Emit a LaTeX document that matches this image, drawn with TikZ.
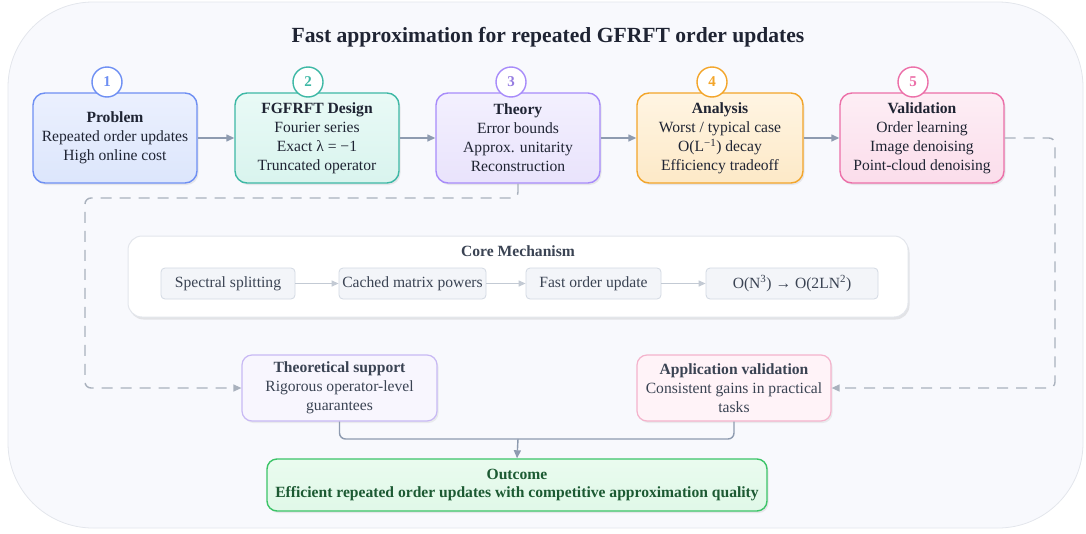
\documentclass[tikz,border=0pt]{standalone}
\usepackage{fontspec}
\setmainfont{Liberation Serif}
\usetikzlibrary{arrows.meta,shadows,calc}
\definecolor{bgfill}{HTML}{F8F9FD}
\definecolor{bgline}{HTML}{E3E6EC}
\definecolor{txt}{HTML}{1F2433}
\definecolor{txtb}{HTML}{3A4353}
\definecolor{conn}{HTML}{8E9BB0}
\definecolor{dashc}{HTML}{A9B1BD}
\definecolor{lconn}{HTML}{C3CAD4}
\definecolor{blueL}{HTML}{6E8FF3}\definecolor{blueT}{HTML}{EBF0FE}\definecolor{blueB}{HTML}{DCE6FC}
\definecolor{tealL}{HTML}{3DB8A5}\definecolor{tealT}{HTML}{E9FAF6}\definecolor{tealB}{HTML}{D9F4EE}
\definecolor{purpL}{HTML}{A78BFA}\definecolor{purpT}{HTML}{F3F0FE}\definecolor{purpB}{HTML}{E9E3FC}
\definecolor{oranL}{HTML}{F3A52A}\definecolor{oranT}{HTML}{FFF5E3}\definecolor{oranB}{HTML}{FDE9C7}
\definecolor{pinkL}{HTML}{EC6FA8}\definecolor{pinkT}{HTML}{FDEEF5}\definecolor{pinkB}{HTML}{FBDDEB}
\definecolor{innerF}{HTML}{F3F5F9}\definecolor{innerL}{HTML}{D3D9E3}
\definecolor{theoL}{HTML}{C8B9F4}\definecolor{theoF}{HTML}{F8F6FE}
\definecolor{appL}{HTML}{F4B3CC}\definecolor{appF}{HTML}{FFF3F8}
\definecolor{outL}{HTML}{3CC468}\definecolor{outT}{HTML}{EAFBEF}\definecolor{outB}{HTML}{E0F8E8}
\definecolor{outTx}{HTML}{1C5A33}
\tikzset{
  body/.style={font=\fontsize{15.6}{19}\selectfont},
  topbox/.style={rounded corners=12pt, line width=1.4pt, align=center, inner sep=0pt,
     minimum height=90pt, text=txt, body,
     drop shadow={shadow xshift=1.5pt, shadow yshift=-2pt, opacity=0.15}},
  numc/.style={circle, fill=white, line width=1.4pt, minimum size=30pt, inner sep=0pt,
     font=\fontsize{15}{16}\selectfont\bfseries},
  innerbox/.style={rounded corners=4pt, draw=innerL, fill=innerF, line width=0.8pt,
     minimum height=31pt, inner sep=0pt, text=txtb, body},
  sidebox/.style={rounded corners=10pt, line width=1.2pt, align=center, inner sep=0pt,
     minimum height=66pt, text=txtb, body,
     drop shadow={shadow xshift=1.5pt, shadow yshift=-2pt, opacity=0.12}},
  arr/.style={draw=conn, line width=1.4pt, -{Triangle[length=8pt,width=7pt]}},
  larr/.style={draw=lconn, line width=1.2pt, -{Triangle[length=7pt,width=6pt]}},
  darr/.style={draw=dashc, line width=1.4pt, dash pattern=on 11pt off 8pt, rounded corners=6pt,
     -{Triangle[length=8pt,width=7pt]}},
}
\begin{document}
\begin{tikzpicture}[x=1pt,y=-1pt]
\useasboundingbox (0,0) rectangle (1086,533);
\draw[fill=bgfill, draw=bgline, line width=0.8pt, rounded corners=85pt] (8,2) rectangle (1083,528);

\node[font=\fontsize{21.6}{24}\selectfont\bfseries, text=txt] (title) at (548,37) {Fast approximation for repeated GFRFT order updates};

% top row
\node[topbox, minimum width=164pt, draw=blueL, top color=blueT, bottom color=blueB] (b1) at (115,138)
  {\textbf{Problem}\\Repeated order updates\\High online cost};
\node[topbox, minimum width=164pt, draw=tealL, top color=tealT, bottom color=tealB] (b2) at (317,138)
  {\textbf{FGFRFT Design}\\Fourier series\\Exact λ = −1\\Truncated operator};
\node[topbox, minimum width=164pt, draw=purpL, top color=purpT, bottom color=purpB] (b3) at (518,138)
  {\textbf{Theory}\\Error bounds\\Approx. unitarity\\Reconstruction};
\node[topbox, minimum width=166pt, draw=oranL, top color=oranT, bottom color=oranB] (b4) at (720,138)
  {\textbf{Analysis}\\Worst / typical case\\O(L\textsuperscript{−1}) decay\\Efficiency tradeoff};
\node[topbox, minimum width=164pt, draw=pinkL, top color=pinkT, bottom color=pinkB] (b5) at (922,138)
  {\textbf{Validation}\\Order learning\\Image denoising\\Point-cloud denoising};

\node[numc, draw=blueL, text=blueL] (n1) at (107,82) {1};
\node[numc, draw=tealL, text=tealL] (n2) at (308,82) {2};
\node[numc, draw=purpL, text=purpL!90!black] (n3) at (511,82) {3};
\node[numc, draw=oranL, text=oranL] (n4) at (712,82) {4};
\node[numc, draw=pinkL, text=pinkL] (n5) at (913,82) {5};

\draw[arr] (b1) -- (b2);
\draw[arr] (b2) -- (b3);
\draw[arr] (b3) -- (b4);
\draw[arr] (b4) -- (b5);

% core mechanism
\node[draw=bgline, fill=white, line width=1pt, rounded corners=14pt, minimum width=780pt, minimum height=81pt,
  drop shadow={shadow xshift=1.5pt, shadow yshift=-2.5pt, opacity=0.18}] (core) at (518,276.5) {};
\node[font=\fontsize{15.6}{17}\selectfont\bfseries, text=txtb] (coret) at (518,251) {Core Mechanism};
\node[innerbox, minimum width=134pt] (c1) at (228,283.5) {Spectral splitting};
\node[innerbox, minimum width=147pt] (c2) at (412.5,283.5) {Cached matrix powers};
\node[innerbox, minimum width=135pt] (c3) at (593.5,283.5) {Fast order update};
\node[innerbox, minimum width=172pt] (c4) at (792,283.5) {O(N\textsuperscript{3}) → O(2LN\textsuperscript{2})};
\draw[larr] (c1) -- (c2);
\draw[larr] (c2) -- (c3);
\draw[larr] (c3) -- (c4);

% lower boxes
\node[sidebox, minimum width=195pt, draw=theoL, fill=theoF] (ts) at (339.5,388)
  {\textbf{Theoretical support}\\Rigorous operator-level\\guarantees};
\node[sidebox, minimum width=194pt, draw=appL, fill=appF] (av) at (734,388)
  {\textbf{Application validation}\\Consistent gains in practical\\tasks};
\node[rounded corners=10pt, line width=1.4pt, draw=outL, top color=outT, bottom color=outB,
  minimum width=500pt, minimum height=52pt, align=center, inner sep=0pt, text=outTx,
  font=\fontsize{15.6}{18.5}\selectfont\bfseries,
  drop shadow={shadow xshift=1.5pt, shadow yshift=-2pt, opacity=0.15}] (out) at (517,485)
  {Outcome\\Efficient repeated order updates with competitive approximation quality};

% dashed feedback paths
\coordinate (j1) at (518,198);
\draw[darr] (b3.south) -- (j1) -- (85,198) -- (85,388) -- (ts.west);
\draw[darr] (b5.east) -- (1055,138) -- (1055,388) -- (av.east);

% merge into outcome
\coordinate (m) at (518,439);
\draw[draw=conn, line width=1.4pt, rounded corners=6pt] (ts.south) -- (339.5,439) -- (m);
\draw[draw=conn, line width=1.4pt, rounded corners=6pt] (av.south) -- (734,439) -- (m);
\draw[arr] (m) -- (out.north);
\end{tikzpicture}
\end{document}
